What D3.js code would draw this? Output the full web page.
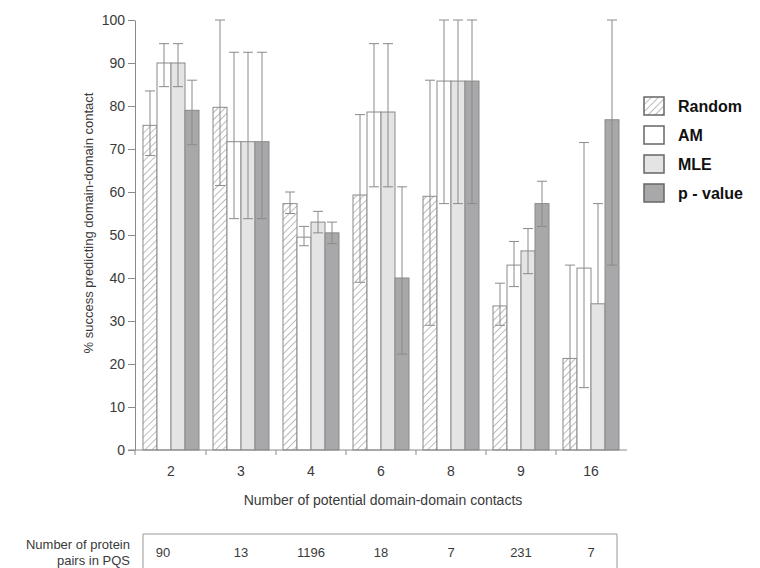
<!DOCTYPE html>
<html>
<head>
<meta charset="utf-8">
<script src="https://cdn.jsdelivr.net/npm/d3@7"></script>
<style>
  body { margin: 0; background: #fff; }
  svg { font-family: "Liberation Sans", Arial, sans-serif; }
</style>
</head>
<body>
<div id="chart"></div>
<script>
// categories on x axis
const categories = ["2", "3", "4", "6", "8", "9", "16"];
const seriesNames = ["Random", "AM", "MLE", "p - value"];

// values (% success), with error bar ends
const randomVals = [75.5, 79.7, 57.3, 59.3, 59.0, 33.5, 21.3];
const randomLow  = [68.5, 61.5, 55.0, 39.0, 29.0, 29.0, 0];
const randomHigh = [83.5, 100, 60.0, 78.0, 86.0, 38.8, 43.0];

const amVals = [90.0, 71.7, 49.5, 78.6, 85.8, 43.0, 42.3];
const amLow  = [84.5, 53.8, 47.5, 61.2, 57.3, 38.0, 14.5];
const amHigh = [94.5, 92.5, 52.0, 94.5, 100, 48.5, 71.5];

const mleVals = [90.0, 71.7, 53.0, 78.6, 85.8, 46.3, 34.0];
const mleLow  = [84.5, 53.8, 50.5, 61.2, 57.3, 41.0, 34.0];
const mleHigh = [94.5, 92.5, 55.5, 94.5, 100, 51.5, 57.3];

const pVals = [79.0, 71.7, 50.5, 40.0, 85.8, 57.3, 76.8];
const pLow  = [71.0, 53.8, 48.0, 22.3, 57.3, 52.0, 43.0];
const pHigh = [86.0, 92.5, 53.0, 61.2, 100, 62.5, 100];

// protein pair counts (table under the chart)
const pairCounts = ["90", "13", "1196", "18", "7", "231", "7"];

const yTicks = [0, 10, 20, 30, 40, 50, 60, 70, 80, 90, 100];

const seriesVals = [randomVals, amVals, mleVals, pVals];
const seriesLow = [randomLow, amLow, mleLow, pLow];
const seriesHigh = [randomHigh, amHigh, mleHigh, pHigh];
const fills = ["url(#hatch)", "#ffffff", "#e4e4e4", "#a8a8aa"];

const rows = [];
categories.forEach((c, i) => {
  seriesNames.forEach((s, j) => {
    rows.push({ cat: c, series: s, v: seriesVals[j][i], lo: seriesLow[j][i], hi: seriesHigh[j][i], fill: fills[j] });
  });
});

const W = 760, H = 568;
const svg = d3.select("#chart").append("svg")
  .attr("width", W)
  .attr("height", H);

// hatch pattern for Random
const defs = svg.append("defs");
const pat = defs.append("pattern")
  .attr("id", "hatch")
  .attr("patternUnits", "userSpaceOnUse")
  .attr("width", 5)
  .attr("height", 5)
  .attr("patternTransform", "rotate(45)");
pat.append("rect").attr("width", 5).attr("height", 5).attr("fill", "#fff");
pat.append("line")
  .attr("x1", 0).attr("y1", 0).attr("x2", 0).attr("y2", 5)
  .attr("stroke", "#9a9a9a").attr("stroke-width", 1.3);

const x = d3.scaleBand().domain(categories).range([136, 626]);
const x1 = d3.scaleBand().domain(seriesNames).range([7, 63]);
const y = d3.scaleLinear().domain([0, 100]).range([450, 20]);

const grey = "#8a8a8a";
const textCol = "#3a3a3a";

// bars
svg.append("g")
  .selectAll("rect")
  .data(rows)
  .enter()
  .append("rect")
  .attr("x", d => x(d.cat) + x1(d.series))
  .attr("y", d => y(d.v))
  .attr("width", x1.bandwidth())
  .attr("height", d => y(0) - y(d.v))
  .attr("fill", d => d.fill)
  .attr("stroke", grey)
  .attr("stroke-width", 1);

// error bars
const eb = svg.append("g").attr("stroke", grey).attr("stroke-width", 1);
const cx = d => x(d.cat) + x1(d.series) + x1.bandwidth() / 2;
eb.selectAll("line.w")
  .data(rows)
  .enter()
  .append("line")
  .attr("class", "w")
  .attr("x1", cx).attr("x2", cx)
  .attr("y1", d => y(d.lo)).attr("y2", d => y(d.hi));
eb.selectAll("line.hc")
  .data(rows)
  .enter()
  .append("line")
  .attr("class", "hc")
  .attr("x1", d => cx(d) - 5).attr("x2", d => cx(d) + 5)
  .attr("y1", d => y(d.hi)).attr("y2", d => y(d.hi));
eb.selectAll("line.lc")
  .data(rows.filter(d => d.lo > 0 && d.lo < d.v))
  .enter()
  .append("line")
  .attr("class", "lc")
  .attr("x1", d => cx(d) - 5).attr("x2", d => cx(d) + 5)
  .attr("y1", d => y(d.lo)).attr("y2", d => y(d.lo));

// y axis
const yAxis = svg.append("g")
  .attr("transform", "translate(135,0)")
  .call(d3.axisLeft(y).tickValues(yTicks).tickSize(7).tickPadding(3).tickSizeOuter(0));
yAxis.select(".domain").attr("stroke", grey);
yAxis.selectAll(".tick line").attr("stroke", grey);
yAxis.selectAll(".tick text")
  .attr("fill", textCol)
  .style("font-size", "14px")
  .style("font-family", "'Liberation Sans', Arial, sans-serif");

// x axis: line plus ticks on category boundaries
svg.append("line")
  .attr("x1", 128).attr("x2", 627)
  .attr("y1", y(0)).attr("y2", y(0))
  .attr("stroke", grey);
svg.append("g")
  .selectAll("line")
  .data(categories.slice(1))
  .enter()
  .append("line")
  .attr("x1", d => x(d)).attr("x2", d => x(d))
  .attr("y1", y(0)).attr("y2", y(0) + 5)
  .attr("stroke", grey);
svg.append("line")
  .attr("x1", 135).attr("x2", 135)
  .attr("y1", y(0)).attr("y2", y(0) + 5)
  .attr("stroke", grey);
svg.append("g")
  .selectAll("text")
  .data(categories)
  .enter()
  .append("text")
  .attr("x", d => x(d) + x.bandwidth() / 2)
  .attr("y", 476)
  .attr("text-anchor", "middle")
  .attr("fill", textCol)
  .style("font-size", "14px")
  .text(d => d);

svg.append("text")
  .attr("x", 383)
  .attr("y", 505)
  .attr("text-anchor", "middle")
  .attr("fill", textCol)
  .style("font-size", "14px")
  .text("Number of potential domain-domain contacts");

svg.append("text")
  .attr("transform", "translate(93,223) rotate(-90)")
  .attr("text-anchor", "middle")
  .attr("fill", textCol)
  .style("font-size", "13px")
  .text("% success predicting domain-domain contact");

// legend
const legend = svg.append("g")
  .selectAll("g")
  .data(seriesNames)
  .enter()
  .append("g")
  .attr("transform", (d, i) => `translate(644,${97 + i * 29})`);
legend.append("rect")
  .attr("width", 20)
  .attr("height", 18)
  .attr("fill", (d, i) => fills[i])
  .attr("stroke", "#666")
  .attr("stroke-width", 1.5);
legend.append("text")
  .attr("x", 34)
  .attr("y", 15)
  .attr("fill", "#111")
  .style("font-size", "16px")
  .style("font-weight", "bold")
  .text(d => d);

// table of protein pair counts
const tbl = svg.append("g").attr("stroke", "#999").attr("fill", "none");
tbl.append("path").attr("d", "M143,568 V534 H617 V568");
svg.append("g")
  .selectAll("text")
  .data(pairCounts)
  .enter()
  .append("text")
  .attr("x", (d, i) => x(categories[i]) + x.bandwidth() / 2 - (i === 0 ? 8 : 0))
  .attr("y", 557)
  .attr("text-anchor", "middle")
  .attr("fill", textCol)
  .style("font-size", "13px")
  .text(d => d);
svg.append("text")
  .attr("x", 130).attr("y", 549)
  .attr("text-anchor", "end")
  .attr("fill", textCol)
  .style("font-size", "13px")
  .text("Number of protein");
svg.append("text")
  .attr("x", 130).attr("y", 565)
  .attr("text-anchor", "end")
  .attr("fill", textCol)
  .style("font-size", "13px")
  .text("pairs in PQS");
</script>
</body>
</html>
